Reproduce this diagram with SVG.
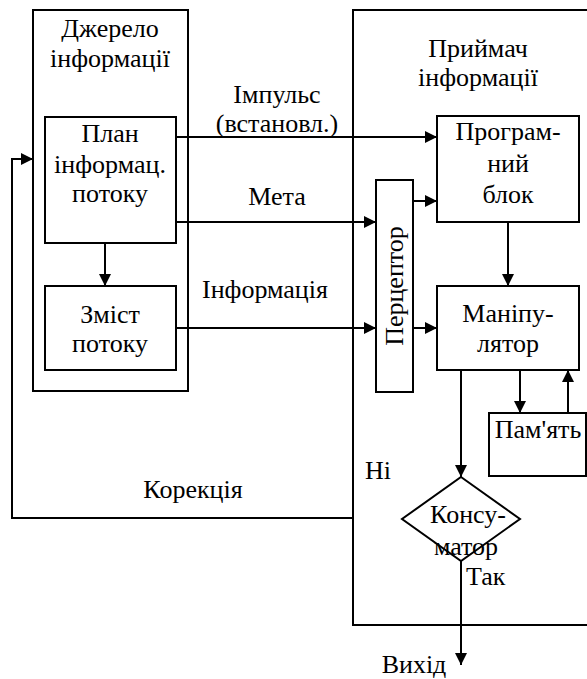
<svg xmlns="http://www.w3.org/2000/svg" width="587" height="679" viewBox="0 0 587 679">
<defs>
<style>
.box{fill:none;stroke:#000;stroke-width:2}
.ln{fill:none;stroke:#000;stroke-width:2}
text{font-family:'Liberation Serif','Times New Roman',Tinos,'DejaVu Serif',serif;font-size:26px;fill:#000;text-anchor:middle}
text.s{text-anchor:start}
</style>
<marker id="ah" viewBox="0 0 12 12" refX="12" refY="6" markerWidth="12" markerHeight="12" markerUnits="userSpaceOnUse" orient="auto">
<path d="M0,0 L12,6 L0,12 z" fill="#000"/>
</marker>
</defs>
<rect width="587" height="679" fill="#fff"/>
<g id="source">
<rect class="box" x="33" y="10" width="155" height="381"/>
<text x="110" y="37">Джерело</text>
<text x="110" y="67">інформації</text>
</g>
<g id="receiver">
<path class="box" d="M600,10 H353 V625 H600"/>
<text x="478" y="57">Приймач</text>
<text x="478" y="86">інформації</text>
</g>
<g id="plan">
<rect class="box" x="45" y="117" width="131" height="126"/>
<text x="110" y="142">План</text>
<text x="110" y="173">інформац.</text>
<text x="110" y="202">потоку</text>
</g>
<g id="content">
<rect class="box" x="45" y="286" width="131" height="84"/>
<text x="110" y="323">Зміст</text>
<text x="110" y="352">потоку</text>
</g>
<g id="perceptor">
<rect class="box" x="376" y="180" width="37" height="212"/>
<text transform="translate(403,286) rotate(-90)">Перцептор</text>
</g>
<g id="program">
<rect class="box" x="437" y="116" width="142" height="106"/>
<text x="508" y="140">Програм-</text>
<text x="508" y="172">ний</text>
<text x="508" y="203">блок</text>
</g>
<g id="manipulator">
<rect class="box" x="437" y="286" width="142" height="84"/>
<text x="508" y="322">Маніпу-</text>
<text x="508" y="352">лятор</text>
</g>
<g id="memory">
<rect class="box" x="489" y="413" width="97" height="63"/>
<text x="538" y="438">Пам'ять</text>
</g>
<g id="consumer">
<polygon class="box" points="461,477 520,519 461,561 402,519"/>
<text x="468" y="523">Консу-</text>
<text x="466" y="555">матор</text>
</g>
<g id="connectors">
<line class="ln" x1="176" y1="137" x2="437" y2="137" marker-end="url(#ah)"/>
<line class="ln" x1="176" y1="222" x2="376" y2="222" marker-end="url(#ah)"/>
<line class="ln" x1="176" y1="328" x2="376" y2="328" marker-end="url(#ah)"/>
<line class="ln" x1="413" y1="201" x2="437" y2="201" marker-end="url(#ah)"/>
<line class="ln" x1="413" y1="328" x2="437" y2="328" marker-end="url(#ah)"/>
<line class="ln" x1="105" y1="243" x2="105" y2="286" marker-end="url(#ah)"/>
<line class="ln" x1="508" y1="222" x2="508" y2="286" marker-end="url(#ah)"/>
<line class="ln" x1="520" y1="370" x2="520" y2="413" marker-end="url(#ah)"/>
<line class="ln" x1="568" y1="413" x2="568" y2="370" marker-end="url(#ah)"/>
<line class="ln" x1="461" y1="370" x2="461" y2="477" marker-end="url(#ah)"/>
<line class="ln" x1="461" y1="561" x2="461" y2="665" marker-end="url(#ah)"/>
<polyline class="ln" points="353,518 12,518 12,159 33,159" marker-end="url(#ah)"/>
<text x="277" y="103">Імпульс</text>
<text x="277" y="132">(встановл.)</text>
<text x="277" y="205">Мета</text>
<text x="265" y="298">Інформація</text>
<text x="193" y="498">Корекція</text>
<text class="s" x="365" y="479">Ні</text>
<text class="s" x="466" y="585">Так</text>
<text x="414" y="673">Вихід</text>
</g>
</svg>
